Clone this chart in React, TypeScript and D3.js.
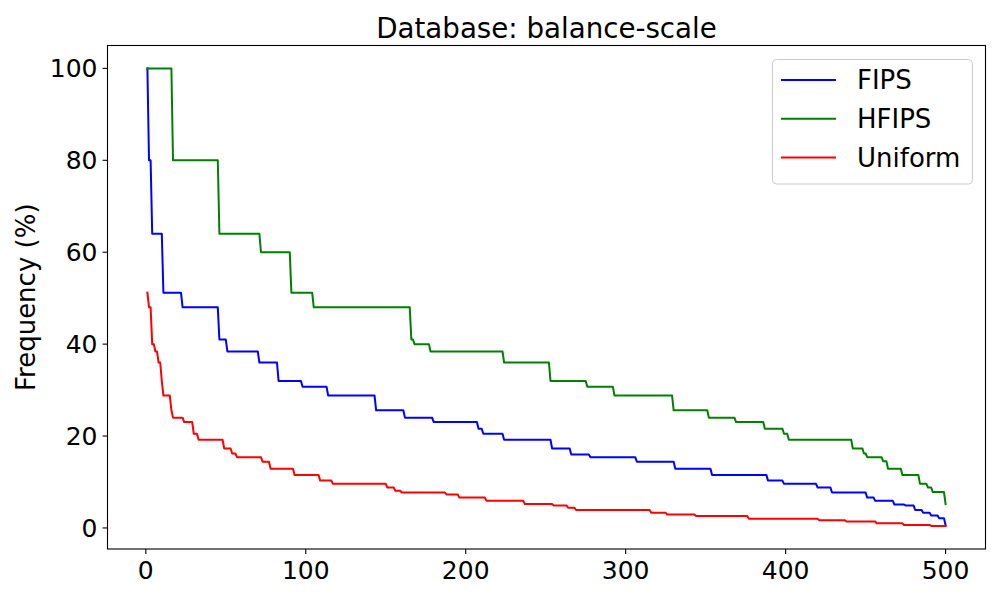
import React from "react";
import * as d3 from "d3";

// Step runs: index where each run starts, and its value (%)
const fipsStarts = [1, 2, 4, 11, 23, 46, 51, 71, 83, 98, 114, 144, 162, 180, 208, 211, 224, 254, 266, 278, 307, 331, 354, 389, 399, 420, 429, 451, 456, 468, 475, 481, 486, 491, 496, 500];
const fipsValues = [100, 80, 64, 51.2, 48, 41, 38.4, 36, 32, 30.7, 28.8, 25.6, 24, 23.04, 21.6, 20.5, 19.2, 17.3, 16.0, 15.4, 14.4, 12.9, 11.5, 10.3, 9.6, 8.8, 7.7, 6.6, 5.9, 5.1, 4.9, 3.9, 3.3, 2.7, 2.1, 0.6];

const hfipsStarts = [1, 17, 46, 72, 91, 105, 166, 168, 178, 224, 253, 276, 293, 330, 352, 369, 387, 399, 402, 442, 449, 451, 461, 464, 473, 484, 489, 492, 500];
const hfipsValues = [100, 80, 64, 60, 51.2, 48, 41, 40, 38.4, 36, 32, 30.7, 28.8, 25.6, 24, 23.04, 21.6, 20.5, 19.2, 17.3, 16.2, 15.4, 14.5, 12.9, 11.5, 9.6, 8.8, 7.8, 5.2];

const uniformStarts = [1, 2, 4, 6, 8, 10, 11, 16, 17, 24, 30, 33, 49, 54, 57, 73, 78, 93, 109, 117, 151, 156, 160, 188, 196, 213, 237, 255, 264, 269, 316, 326, 344, 377, 421, 438, 457, 474, 491, 500];
const uniformValues = [51.2, 48, 40, 38.4, 36, 32, 28.8, 25.6, 24, 23.04, 20.5, 19.2, 17.3, 16.2, 15.4, 14.4, 12.9, 11.5, 10.3, 9.6, 8.8, 8.1, 7.7, 7.3, 6.6, 5.9, 5.2, 4.9, 4.4, 3.9, 3.3, 2.9, 2.6, 2.0, 1.7, 1.4, 1.0, 0.65, 0.45, 0.45];

const seriesNames = ["FIPS", "HFIPS", "Uniform"];
const seriesColors = ["#0000ff", "#008000", "#ff0000"];

const xTicks = [0, 100, 200, 300, 400, 500];
const yTicks = [0, 20, 40, 60, 80, 100];

// expand runs into the polyline vertices (run start and run end)
function runsToPoints(starts: number[], values: number[]): [number, number][] {
  const pts: [number, number][] = [];
  for (let i = 0; i < starts.length; i++) {
    pts.push([starts[i], values[i]]);
    if (i + 1 < starts.length) {
      const end = starts[i + 1] - 1;
      if (end > starts[i]) pts.push([end, values[i]]);
    }
  }
  return pts;
}

export default function App() {
  const W = 1000, H = 600;
  const left = 107.5, right = 985.5, top = 45.5, bottom = 549;
  const xMin = 1, xMax = 500;
  const xPad = (xMax - xMin) * 0.05;
  const x = d3.scaleLinear().domain([xMin - xPad, xMax + xPad]).range([left, right]);
  const yMinV = 0.4, yMaxV = 100;
  const yPad = (yMaxV - yMinV) * 0.05;
  const y = d3.scaleLinear().domain([yMinV - yPad, yMaxV + yPad]).range([bottom, top]);

  const line = d3.line<[number, number]>().x(d => x(d[0])).y(d => y(d[1]));
  const series = [
    runsToPoints(fipsStarts, fipsValues),
    runsToPoints(hfipsStarts, hfipsValues),
    runsToPoints(uniformStarts, uniformValues),
  ];
  const font = "DejaVu Sans, sans-serif";
  const fs = 25;

  return (
    <svg width={W} height={H} style={{ position: "absolute", left: 0, top: 0, background: "#fff" }} fontFamily={font}>
      <rect x={0} y={0} width={W} height={H} fill="#fff" />
      <defs>
        <clipPath id="plotclip">
          <rect x={left} y={top} width={right - left} height={bottom - top} />
        </clipPath>
      </defs>
      <g clipPath="url(#plotclip)">
        {series.map((pts, i) => (
          <path key={i} d={line(pts) || ""} fill="none" stroke={seriesColors[i]} strokeWidth={2} strokeLinejoin="round" strokeLinecap="square" />
        ))}
      </g>
      <rect x={left} y={top} width={right - left} height={bottom - top} fill="none" stroke="#000" strokeWidth={1.1} />
      {xTicks.map(t => (
        <g key={"x" + t}>
          <line x1={x(t)} x2={x(t)} y1={bottom} y2={bottom + 4.9} stroke="#000" strokeWidth={1.1} />
          <text x={x(t)} y={579} textAnchor="middle" fontSize={fs} fill="#000">{t}</text>
        </g>
      ))}
      {yTicks.map(t => (
        <g key={"y" + t}>
          <line x1={left - 4.9} x2={left} y1={y(t)} y2={y(t)} stroke="#000" strokeWidth={1.1} />
          <text x={97.5} y={y(t) + 9} textAnchor="end" fontSize={fs} fill="#000">{t}</text>
        </g>
      ))}
      <text x={(left + right) / 2} y={37.5} textAnchor="middle" fontSize={27.7} fill="#000">Database: balance-scale</text>
      <text transform={`translate(35,${(top + bottom) / 2}) rotate(-90)`} textAnchor="middle" fontSize={26} fill="#000">Frequency (%)</text>
      <g>
        <rect x={772.5} y={59.5} width={200} height={124.5} rx={4} fill="#fff" fillOpacity={0.8} stroke="#cccccc" strokeWidth={1} />
        {seriesNames.map((n, i) => {
          const cy = 80 + i * 38.8;
          return (
            <g key={n}>
              <line x1={781} x2={836} y1={cy} y2={cy} stroke={seriesColors[i]} strokeWidth={2} />
              <text x={857} y={cy + 9.3} fontSize={26} fill="#000">{n}</text>
            </g>
          );
        })}
      </g>
    </svg>
  );
}
